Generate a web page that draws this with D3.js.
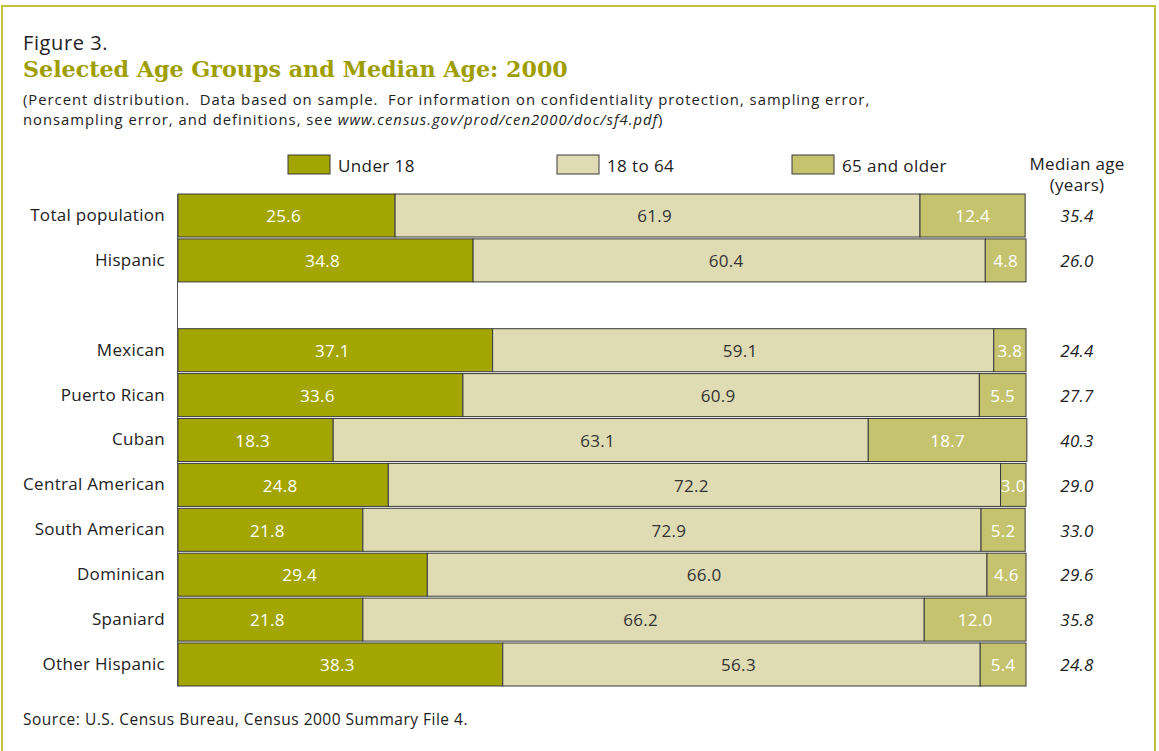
<!DOCTYPE html>
<html><head><meta charset="utf-8">
<script src="https://cdn.jsdelivr.net/npm/d3@7"></script>
<style>
html,body{margin:0;padding:0;background:#fff;}
svg{display:block;}
</style></head>
<body>
<svg id="chart" width="1159" height="751"></svg>
<script>
const categories = ["Total population","Hispanic","Mexican","Puerto Rican","Cuban","Central American","South American","Dominican","Spaniard","Other Hispanic"];
const under18 = [25.6,34.8,37.1,33.6,18.3,24.8,21.8,29.4,21.8,38.3];
const age18to64 = [61.9,60.4,59.1,60.9,63.1,72.2,72.9,66.0,66.2,56.3];
const age65plus = [12.4,4.8,3.8,5.5,18.7,3.0,5.2,4.6,12.0,5.4];
const medianAge = ["35.4","26.0","24.4","27.7","40.3","29.0","33.0","29.6","35.8","24.8"];
const seriesNames = ["Under 18","18 to 64","65 and older"];
const rowOrder = ["Total population","Hispanic","__gap__","Mexican","Puerto Rican","Cuban","Central American","South American","Dominican","Spaniard","Other Hispanic"];

const colors = ["#a3a600","#dfdbb3","#c6c36f"];
const labelColors = ["#ffffff","#333333","#ffffff"];
const sans = "'Open Sans', 'Noto Sans', sans-serif";

const svg = d3.select("#chart");

// frame
svg.append("path").attr("d","M2,760 L2,6 L1155,6 L1155,760")
  .attr("fill","none").attr("stroke","#c2c23a").attr("stroke-width",2);

// titles
svg.append("text").attr("x",23).attr("y",50).attr("font-family",sans).attr("font-size",20).attr("letter-spacing",0.6).attr("fill","#222").text("Figure 3.");
svg.append("text").attr("x",23).attr("y",77).attr("font-family","'DejaVu Serif', serif").attr("font-weight","bold").attr("font-size",22.2).attr("fill","#9e9e00").text("Selected Age Groups and Median Age: 2000");
svg.append("text").attr("x",23).attr("y",104.5).attr("font-family",sans).attr("font-size",14.8).attr("letter-spacing",1.0).attr("fill","#222").attr("xml:space","preserve")
  .text("(Percent distribution.  Data based on sample.  For information on confidentiality protection, sampling error,");
const sub2 = svg.append("text").attr("x",23).attr("y",125).attr("font-family",sans).attr("font-size",14.8).attr("letter-spacing",1.0).attr("fill","#222");
sub2.append("tspan").text("nonsampling error, and definitions, see ");
sub2.append("tspan").attr("font-style","italic").text("www.census.gov/prod/cen2000/doc/sf4.pdf");
sub2.append("tspan").text(")");

// scales
const x = d3.scaleLinear().domain([0,100]).range([178,1026]);
const y = d3.scaleBand().domain(rowOrder).range([194,686]).paddingInner(0.042).paddingOuter(0);

const table = categories.map((c,i)=>({cat:c, vals:[under18[i],age18to64[i],age65plus[i]], median:medianAge[i]}));

// bars
const rows = svg.append("g").selectAll("g").data(table).join("g")
  .attr("transform",d=>`translate(0,${y(d.cat)})`);
rows.each(function(d){
  const g = d3.select(this);
  let cum = 0;
  d.vals.forEach((v,k)=>{
    const x0 = x(cum), x1 = x(cum+v);
    g.append("rect").attr("x",x0).attr("y",0).attr("width",x1-x0).attr("height",y.bandwidth())
      .attr("fill",colors[k]).attr("stroke","#3a3a3a").attr("stroke-width",1);
    g.append("text").attr("x",(x0+x1)/2 - (k===2?0:3)).attr("y",y.bandwidth()/2).attr("dy","0.4em")
      .attr("text-anchor","middle").attr("font-family",sans).attr("font-size",17).attr("letter-spacing",0.3)
      .attr("fill",labelColors[k]).text(v.toFixed(1));
    cum += v;
  });
});

// axis
const axis = d3.axisLeft(y).tickSize(0).tickPadding(12).tickFormat(d=>d==="__gap__"?"":d);
const ax = svg.append("g").attr("transform","translate(177,0)").call(axis);
ax.select(".domain").attr("stroke","#555").attr("stroke-width",1);
ax.selectAll("text").attr("font-family",sans).attr("font-size",17).attr("letter-spacing",0.3).attr("fill","#222");

// median ages
svg.append("g").selectAll("text").data(table).join("text")
  .attr("x",1077).attr("y",d=>y(d.cat)+y.bandwidth()/2).attr("dy","0.4em")
  .attr("text-anchor","middle").attr("font-family",sans).attr("font-style","italic")
  .attr("font-size",17).attr("letter-spacing",0.3).attr("fill","#222").text(d=>d.median);
svg.append("text").attr("x",1077).attr("y",170).attr("text-anchor","middle").attr("font-family",sans).attr("font-size",17).attr("letter-spacing",0.3).attr("fill","#222").text("Median age");
svg.append("text").attr("x",1077).attr("y",191).attr("text-anchor","middle").attr("font-family",sans).attr("font-size",17).attr("letter-spacing",0.3).attr("fill","#222").text("(years)");

// legend
const legendX = [288,557,792];
const lg = svg.append("g").selectAll("g").data(seriesNames).join("g")
  .attr("transform",(d,i)=>`translate(${legendX[i]},155)`);
lg.append("rect").attr("width",42).attr("height",19).attr("fill",(d,i)=>colors[i]).attr("stroke","#3a3a3a").attr("stroke-width",1);
lg.append("text").attr("x",50).attr("y",10).attr("dy","0.4em").attr("font-family",sans).attr("font-size",17).attr("letter-spacing",0.4).attr("fill","#222").text(d=>d);

// source
svg.append("text").attr("x",23).attr("y",725).attr("font-family",sans).attr("font-size",15.5).attr("letter-spacing",0.5).attr("fill","#222").text("Source: U.S. Census Bureau, Census 2000 Summary File 4.");
</script>
</body></html>
